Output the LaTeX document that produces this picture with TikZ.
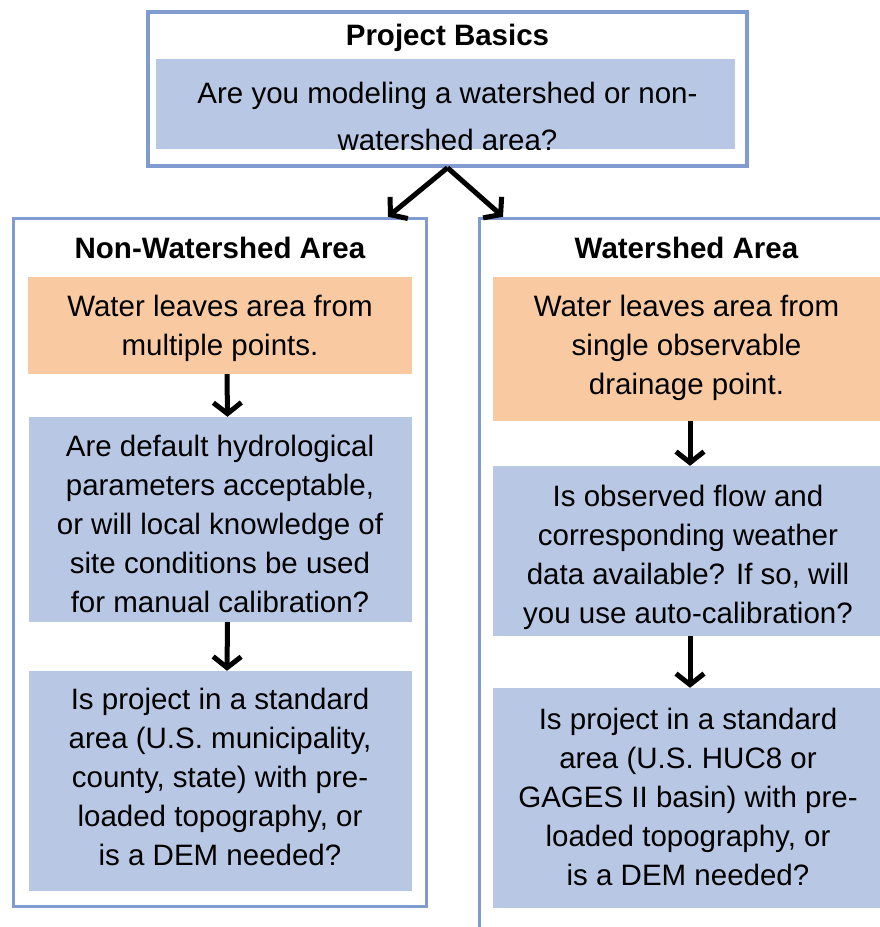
\documentclass[tikz,border=0pt]{standalone}
\usepackage{fontspec}
\setmainfont{Liberation Sans}
\usetikzlibrary{arrows.meta}
\definecolor{frameblue}{HTML}{7F9BCF}
\definecolor{boxblue}{HTML}{B8C7E4}
\definecolor{boxorange}{HTML}{F9CAA1}
\newcommand\st{\rule[-11.7pt]{0pt}{39pt}}
\tikzset{
  panel/.style={draw=frameblue, line width=3.5pt, fill=white},
  bluebox/.style={fill=boxblue, draw=none, inner sep=0pt},
  orangebox/.style={fill=boxorange, draw=none, inner sep=0pt},
  txt/.style={inner sep=0pt, align=center, font=\fontsize{29.5}{39}\selectfont},
  ttl/.style={inner sep=0pt, align=center, font=\fontsize{29.5}{39}\selectfont\bfseries},
  arr/.style={line width=5pt, -{Straight Barb[length=11pt,width=28pt]}}
}
\begin{document}
\begin{tikzpicture}[x=1pt,y=-1pt]
\useasboundingbox (0,0) rectangle (880,927);
\clip (0,0) rectangle (880,927);

% top box
\node[panel, minimum width=599pt, minimum height=154pt, inner sep=0pt] (top) at (447.5,89) {};
\node[ttl] (toptitle) at (447.5,37.2) {\st Project Basics\st};
\node[bluebox, minimum width=579pt, minimum height=90pt] (topq) at (445.5,104) {};
\begin{scope}
\clip (topq.north west) rectangle (topq.south east);
\node[txt, font=\fontsize{29.5}{47}\selectfont] (topqt) at (447.5,119.5) {\st Are you modeling a watershed or non-\\watershed area?\st};
\end{scope}

% left panel
\node[panel, minimum width=413pt, minimum height=688pt, inner sep=0pt] (lp) at (220,562.5) {};
\node[ttl] (lpt) at (220,250.5) {\st Non-Watershed Area\st};
\node[orangebox, minimum width=384pt, minimum height=97pt] (l1) at (220,325.5) {};
\node[txt] (l1t) at (220,327.7) {\st Water leaves area from\\multiple points.\st};
\node[bluebox, minimum width=383pt, minimum height=205pt] (l2) at (220.5,519.5) {};
\node[txt] (l2t) at (220,526.2) {\st Are default hydrological\\parameters acceptable,\\or will local knowledge of\\site conditions be used\\for manual calibration?\st};
\node[bluebox, minimum width=383pt, minimum height=220pt] (l3) at (220.5,781) {};
\node[txt] (l3t) at (220,779.2) {\st Is project in a standard\\area (U.S. municipality,\\county, state) with pre-\\loaded topography, or\\is a DEM needed?\st};

% right panel
\node[panel, minimum width=418pt, minimum height=732pt, inner sep=0pt] (rp) at (688.5,584.5) {};
\node[ttl] (rpt) at (686.5,250.5) {\st Watershed Area\st};
\node[orangebox, minimum width=390pt, minimum height=144pt] (r1) at (688,349) {};
\node[txt] (r1t) at (686.5,347.2) {\st Water leaves area from\\single observable\\drainage point.\st};
\node[bluebox, minimum width=390pt, minimum height=170pt] (r2) at (688,551) {};
\node[txt] (r2t) at (688,556.7) {\st Is observed flow and\\corresponding weather\\data available? If so, will\\you use auto-calibration?\st};
\node[bluebox, minimum width=390pt, minimum height=220pt] (r3) at (688,798) {};
\node[txt] (r3t) at (688,799.2) {\st Is project in a standard\\area (U.S. HUC8 or\\GAGES II basin) with pre-\\loaded topography, or\\is a DEM needed?\st};

% arrows
\coordinate (tipL) at (388,0);
\coordinate (tipR) at (503,0);
\draw[arr] (top.south) -- (lp.north -| tipL);
\draw[arr] (top.south) -- (rp.north -| tipR);
\draw[arr] ([xshift=7pt]l1.south) -- ([xshift=7pt]l2.north);
\draw[arr] ([xshift=7pt]l2.south) -- ([xshift=6.5pt]l3.north);
\draw[arr] ([xshift=2pt]r1.south) -- ([xshift=2pt]r2.north);
\draw[arr] ([xshift=2pt]r2.south) -- ([xshift=2pt]r3.north);
\end{tikzpicture}
\end{document}
